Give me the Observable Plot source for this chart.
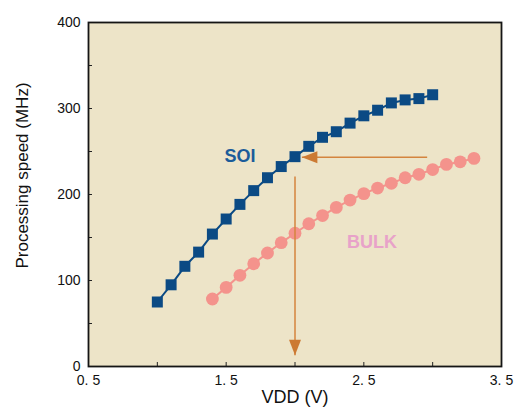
<!DOCTYPE html>
<html>
<head>
<meta charset="utf-8">
<script src="https://cdn.jsdelivr.net/npm/d3@7"></script>
<script src="https://cdn.jsdelivr.net/npm/@observablehq/plot@0.6"></script>
<style>
  html, body { margin: 0; padding: 0; background: #fff; }
  #chart svg { font-family: "Liberation Sans", Arial, sans-serif; }
</style>
</head>
<body>
<div id="chart"></div>
<script>
// ---- data ----
const soiVdd = [1.0, 1.1, 1.2, 1.3, 1.4, 1.5, 1.6, 1.7, 1.8, 1.9, 2.0, 2.1, 2.2, 2.3, 2.4, 2.5, 2.6, 2.7, 2.8, 2.9, 3.0];
const soiSpeed = [75, 95, 116.5, 133, 154, 171.5, 188.5, 204.5, 219.5, 232.5, 244, 256, 266.5, 273, 283, 291.5, 298, 306.5, 310, 311.5, 316];
const bulkVdd = [1.4, 1.5, 1.6, 1.7, 1.8, 1.9, 2.0, 2.1, 2.2, 2.3, 2.4, 2.5, 2.6, 2.7, 2.8, 2.9, 3.0, 3.1, 3.2, 3.3];
const bulkSpeed = [78.5, 92, 106, 119.5, 132, 144, 155, 166, 175.5, 185, 193.5, 201, 207.5, 213, 219.5, 223.5, 229, 235, 238, 242];
const seriesNames = ["SOI", "BULK"];
const labelVdd = [1.6, 2.56];
const labelSpeed = [245, 145];
// annotation arrows (start -> tip)
const arrowX1 = [2.96, 2.0];
const arrowY1 = [243.4, 221];
const arrowX2 = [2.05, 2.0];
const arrowY2 = [243.4, 13];
const arrowRotate = [-90, 180];
// axes
const xTicks = [0.5, 1.5, 2.5, 3.5];
const xMinor = [1.0, 2.0, 3.0];
const yTicks = [0, 100, 200, 300, 400];
const yMinor = [50, 150, 250, 350];

const soi = soiVdd.map((x, i) => ({x, y: soiSpeed[i]}));
const bulk = bulkVdd.map((x, i) => ({x, y: bulkSpeed[i]}));
const labels = seriesNames.map((name, i) => ({name, x: labelVdd[i], y: labelSpeed[i]}));
const arrows = arrowX1.map((x1, i) => ({x1, y1: arrowY1[i], x2: arrowX2[i], y2: arrowY2[i], r: arrowRotate[i]}));

// narrow triangular arrowhead, apex at origin pointing up
const arrowHead = {
  draw(context) {
    context.moveTo(0, 0);
    context.lineTo(6, 15.5);
    context.lineTo(-6, 15.5);
    context.closePath();
  }
};

const navy = "#0b4a84";
const salmon = "#f4938c";
const orange = "#d4843e";

const chart = Plot.plot({
  width: 522,
  height: 414,
  marginLeft: 88,
  marginRight: 21,
  marginTop: 22,
  marginBottom: 48,
  style: {fontFamily: "'Liberation Sans', Arial, sans-serif", fontSize: "14px", color: "#111", background: "#fff"},
  x: {domain: [0.5, 3.5]},
  y: {domain: [0, 400]},
  marks: [
    Plot.frame({fill: "#ede4c8", stroke: null}),
    // labels (no ticks)
    Plot.axisX({ticks: xTicks, tickSize: 0, tickPadding: 9, fontSize: 14, label: null,
      tickFormat: d => d.toFixed(1).replace(".", ". ")}),
    Plot.axisY({ticks: yTicks, tickSize: 0, tickPadding: 8, fontSize: 14, label: null}),
    // inward ticks
    Plot.axisX({ticks: xTicks.concat(xMinor), tickSize: 4, dy: -4, text: null, label: null, stroke: "#222"}),
    Plot.axisY({ticks: yTicks.concat(yMinor), tickSize: 4, dx: 4, text: null, label: null, stroke: "#222"}),
    // axis titles
    Plot.text(["VDD (V)"], {frameAnchor: "bottom", dy: 36, fontSize: 18, fill: "#111"}),
    Plot.text(["Processing speed (MHz)"], {frameAnchor: "left", textAnchor: "middle", dx: -66, dy: -19, rotate: -90, fontSize: 17, fill: "#111"}),
    // series
    Plot.line(bulk, {x: "x", y: "y", stroke: salmon, strokeWidth: 2}),
    Plot.dot(bulk, {x: "x", y: "y", r: 6.4, fill: salmon, stroke: null}),
    Plot.line(soi, {x: "x", y: "y", stroke: navy, strokeWidth: 2}),
    Plot.dot(soi, {x: "x", y: "y", symbol: "square", r: 6.2, fill: navy, stroke: null}),
    // arrows
    Plot.link(arrows, {x1: "x1", y1: "y1", x2: "x2", y2: "y2", stroke: orange, strokeWidth: 1.5}),
    Plot.dot(arrows, {x: "x2", y: "y2", symbol: arrowHead, rotate: "r", fill: "#cc7a33", stroke: null}),
    // series labels
    Plot.text(labels, {x: "x", y: "y", text: "name", fontSize: 18, fontWeight: "bold",
      fill: d => d.name === "SOI" ? "#1b5c9a" : "#e8a2c9"}),
    Plot.frame({stroke: "#151515", strokeWidth: 1.8})
  ]
});
document.getElementById("chart").appendChild(chart);
</script>
</body>
</html>
